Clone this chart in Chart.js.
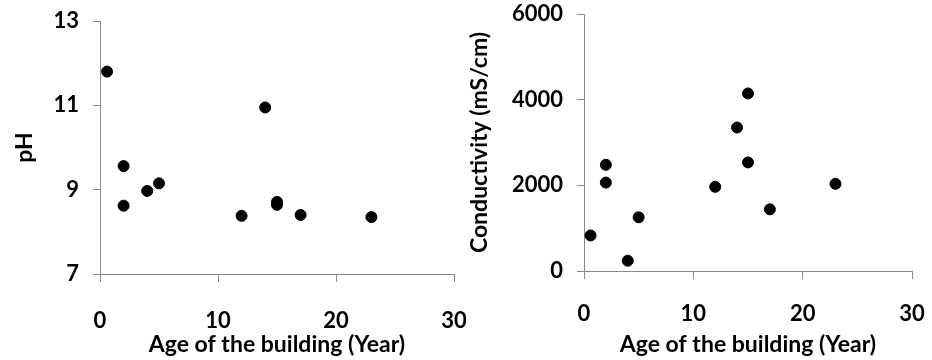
<!DOCTYPE html>
<html>
<head>
<meta charset="utf-8">
<script src="https://cdn.jsdelivr.net/npm/chart.js@4.4.1/dist/chart.umd.min.js"></script>
<style>
  body { margin: 0; background: #fff; }
  .box { position: absolute; top: 0; width: 466px; height: 360px; }
</style>
</head>
<body>
<div class="box" style="left:0"><canvas id="phChart"></canvas></div>
<div class="box" style="left:466px"><canvas id="condChart"></canvas></div>
<script>
// building age (years) for each sample
var ages = [0.6, 2, 2, 4, 5, 12, 14, 15, 15, 17, 23];
var phValues = [11.8, 9.56, 8.62, 8.97, 9.15, 8.38, 10.95, 8.71, 8.64, 8.40, 8.35];
var ageForCond = [0.6, 2, 2, 4, 5, 12, 14, 15, 15, 17, 23];
var condValues = [830, 2480, 2065, 240, 1255, 1965, 3350, 4145, 2535, 1440, 2035];

var axisColor = '#8a8a8a';
var fontFam = 'Lato, "Open Sans", sans-serif';

function toPoints(xs, ys) {
    var out = [];
    for (var i = 0; i < xs.length; i++) {
        out.push({ x: xs[i], y: ys[i] });
    }
    return out;
}

function makeChart(id, pts, yMin, yMax, yStep, yTitle, pad, yWidth, xHeight, xTickPad) {
    var ctx = document.getElementById(id).getContext('2d');
    return new Chart(ctx, {
        type: 'scatter',
        data: {
            datasets: [{
                data: pts,
                backgroundColor: '#000',
                borderColor: '#000',
                pointRadius: 5.5,
                pointHoverRadius: 5.5
            }]
        },
        options: {
            responsive: true,
            maintainAspectRatio: false,
            animation: false,
            layout: { padding: pad },
            plugins: { legend: { display: false }, tooltip: { enabled: false } },
            scales: {
                x: {
                    min: 0, max: 30,
                    afterFit: function (s) {
                        s.height = xHeight;
                        s.paddingLeft = 0;
                        s.paddingRight = 0;
                    },
                    ticks: { stepSize: 10, color: '#000', padding: xTickPad,
                        callback: function (v) { return String(v); },
                        font: { family: fontFam, size: 22, weight: 'bold' } },
                    grid: { drawOnChartArea: false, color: axisColor, tickLength: 8 },
                    border: { color: axisColor },
                    title: { display: true, text: 'Age of the building (Year)', color: '#000',
                        padding: 0, font: { family: fontFam, size: 23, weight: 'bold' } }
                },
                y: {
                    min: yMin, max: yMax,
                    afterFit: function (s) {
                        s.width = yWidth;
                        s.paddingTop = 0;
                        s.paddingBottom = 0;
                    },
                    ticks: { stepSize: yStep, color: '#000', padding: 14,
                        callback: function (v) { return String(v); },
                        font: { family: fontFam, size: 22, weight: 'bold' } },
                    grid: { drawOnChartArea: false, color: axisColor, tickLength: 7 },
                    border: { color: axisColor },
                    title: { display: true, text: yTitle, color: '#000',
                        padding: 0, font: { family: fontFam, size: 23, weight: 'bold' } }
                }
            }
        }
    });
}

makeChart('phChart', toPoints(ages, phValues), 7, 13, 2, 'pH',
    { left: 11, top: 21, right: 12, bottom: 2 }, 89, 84, 26);
makeChart('condChart', toPoints(ageForCond, condValues), 0, 6000, 2000, 'Conductivity (mS/cm)',
    { left: 0, top: 14, right: 20, bottom: 2 }, 118, 87, 22);
</script>
</body>
</html>
